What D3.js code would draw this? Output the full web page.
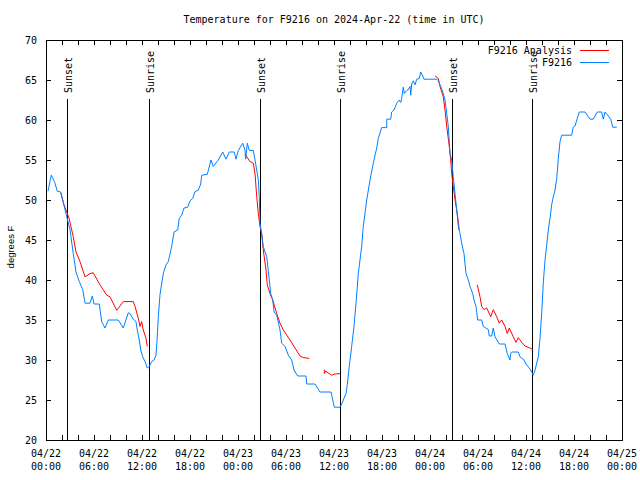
<!DOCTYPE html>
<html><head><meta charset="utf-8">
<script src="https://cdn.jsdelivr.net/npm/d3@7"></script>
<style>
body{margin:0;background:#fff}
svg{display:block}
text{font-family:"DejaVu Sans Mono","Liberation Mono",monospace;font-size:10px;fill:#000}
</style>
</head><body>
<svg id="c" width="640" height="480"></svg>
<script>
// ---------- data (hours since 2024-04-22 00:00 UTC, temperature in deg F) ----------
const titleText = "Temperature for F9216 on 2024-Apr-22 (time in UTC)";
const yLabelText = "degrees F";
const seriesNames = ["F9216 Analysis", "F9216"];
const yTicks = [20, 25, 30, 35, 40, 45, 50, 55, 60, 65, 70];
const xLabelHours = [0, 6, 12, 18, 24, 30, 36, 42, 48, 54, 60, 66, 72];
const xTickLine1 = ["04/22","04/22","04/22","04/22","04/23","04/23","04/23","04/23","04/24","04/24","04/24","04/24","04/25"];
const xTickLine2 = ["00:00","06:00","12:00","18:00","00:00","06:00","12:00","18:00","00:00","06:00","12:00","18:00","00:00"];
const sunLabels = ["Sunset","Sunrise","Sunset","Sunrise","Sunset","Sunrise"];
const sunHours  = [2.65, 12.9, 26.7, 36.8, 50.7, 60.8];

const obsHours = [0.25,0.66,1.09,1.41,1.84,2.09,2.59,3.0,3.41,3.75,4.16,4.59,4.88,5.5,5.79,6.0,6.66,6.96,7.38,7.79,9.04,9.66,10.29,10.5,10.91,11.25,11.41,11.66,11.84,12.09,12.38,12.66,12.91,13.21,13.5,13.75,13.91,14.04,14.25,14.66,15.0,15.29,15.71,16.0,16.46,16.66,16.96,17.25,17.71,18.0,18.34,18.63,19.04,19.34,19.46,20.16,20.63,20.91,21.54,22.09,22.5,22.91,23.54,23.75,24.04,24.59,24.88,24.96,25.16,25.41,25.91,26.13,26.54,26.66,26.75,26.96,27.16,27.59,27.91,28.09,28.34,28.5,28.84,29.25,29.46,29.88,30.29,30.71,31.0,31.46,32.5,32.59,33.63,34.25,35.63,35.84,36.04,36.75,36.96,37.5,37.66,37.91,38.21,38.5,38.75,39.04,39.46,39.66,40.09,40.5,40.91,41.34,41.54,41.96,42.59,42.6,43.09,43.21,43.5,43.84,44.16,44.34,44.46,44.66,44.79,45.09,45.29,45.5,45.59,45.71,45.91,46.13,46.34,46.66,46.84,47.09,47.25,48.84,49.04,49.34,49.66,49.88,50.09,50.29,50.5,50.71,50.91,51.13,51.34,51.54,51.75,51.96,52.25,52.5,52.79,53.0,53.34,53.5,53.75,53.96,54.46,54.66,55.29,55.41,55.71,55.91,56.13,56.66,57.38,57.66,58.0,58.09,58.21,59.04,59.25,59.75,60.0,60.41,60.71,60.91,61.13,61.54,61.75,61.96,62.16,62.38,62.59,62.79,63.0,63.21,63.41,63.63,63.84,64.04,64.25,64.46,65.71,65.91,66.13,66.41,66.66,67.38,68.0,68.41,68.91,69.46,69.66,69.88,70.29,70.59,70.84,71.34];
const obsTemps = [51.1,53.1,52.2,51.1,51.0,50.0,47.9,46.3,43.3,41.0,39.8,38.8,37.1,37.1,38.0,37.0,37.0,34.8,34.0,35.0,35.0,34.0,35.9,35.8,35.1,34.8,33.75,32.5,31.25,30.4,29.8,29.0,29.2,29.8,30.0,30.6,32.9,35.4,38.2,40.8,41.9,42.3,44.2,46.0,46.25,47.7,48.1,49.0,49.1,49.9,50.2,51.05,51.25,52.0,53.1,53.2,55.0,54.2,55.0,56.0,55.1,56.0,56.0,55.1,56.2,57.1,56.2,55.1,57.1,56.2,56.2,55.0,52.5,50.4,47.1,45.8,44.2,42.9,40.0,38.3,37.5,36.0,35.6,33.75,32.1,31.7,30.6,30.0,28.75,28.0,28.0,27.0,27.0,26.0,26.0,25.0,24.1,24.1,24.5,25.8,26.9,29.2,31.7,34.2,37.1,40.8,44.2,46.7,50.0,52.5,54.6,56.5,57.7,59.05,59.05,60.1,60.1,61.0,61.25,62.1,62.5,62.2,62.7,64.1,63.3,63.7,63.8,64.2,63.1,64.5,64.9,64.4,65.1,65.2,66.0,65.5,65.1,65.1,64.9,64.2,63.3,62.5,60.8,59.2,55.8,55.0,52.9,50.8,48.75,46.7,45.8,44.6,43.3,40.8,40.0,39.2,38.3,37.5,36.7,35.0,35.0,34.2,33.8,33.0,33.0,34.0,32.9,32.0,32.0,30.8,30.0,30.8,31.0,31.0,30.4,30.0,29.5,29.0,28.5,28.1,28.75,30.4,32.7,35.8,39.6,42.5,44.4,46.25,47.7,49.4,50.4,51.25,52.7,55.2,57.3,58.1,58.1,59.1,59.25,60.2,61.0,61.0,60.1,60.1,61.0,61.0,60.1,61.0,60.5,60.1,59.1,59.1];

// analysis: null marks a gap between segments
const anaHours = [1.84,2.25,2.59,2.91,3.41,3.75,4.25,4.88,5.5,5.91,6.75,7.59,8.0,8.84,9.66,10.91,11.13,11.54,11.75,11.96,12.16,12.5,12.66, null,
  24.88,25.5,25.91,26.13,26.34,26.54,26.75,26.96,27.16,27.5,27.66,28.0,28.34,28.84,29.25,29.66,30.5,31.13,31.75,32.16,32.91, null,
  34.79,34.8,34.95,35.71,36.13,36.75, null,
  48.63,49.04,49.25,49.66,49.88,50.09,50.41,50.59,50.71,50.91,51.13,51.41,51.66, null,
  53.91,54.25,54.46,54.75,55.09,55.59,55.91,56.34,56.66,56.96,57.38,57.66,57.91,58.41,58.75,59.04,59.46,59.88,60.5,60.91];
const anaTemps = [50.9,49.4,48.5,47.6,45.4,43.5,42.3,40.4,40.8,40.9,39.4,38.1,37.9,36.2,37.3,37.3,36.7,35.2,34.2,34.8,33.75,32.7,31.7, null,
  55.75,54.8,54.6,53.3,50.4,48.3,46.7,45.8,43.75,41.25,39.4,38.3,37.5,35.8,34.6,33.75,32.5,31.5,30.5,30.3,30.2, null,
  28.8,28.3,28.6,28.1,28.25,28.3, null,
  65.5,65.2,64.2,62.9,61.25,59.2,56.7,55.0,53.3,51.7,50.0,48.3,46.25, null,
  39.4,37.9,36.7,36.3,36.5,35.4,36.3,35.4,34.6,35.0,34.2,33.3,34.0,32.9,32.2,32.8,32.2,31.75,31.5,31.25];

const colors = {analysis: "#ff0000", obs: "#0080ff"};

// ---------- chart ----------
const W = 640, H = 480;
const M = {left: 46, right: 622, top: 40, bottom: 440};
const t0 = Date.UTC(2024, 3, 22, 0, 0);
const toDate = h => new Date(t0 + h * 3600e3);

const svg = d3.select("#c");
const x = d3.scaleUtc().domain([toDate(0), toDate(72)]).range([M.left, M.right]);
const y = d3.scaleLinear().domain([20, 70]).range([M.bottom, M.top]);

// title
svg.append("text").attr("x", (M.left + M.right) / 2).attr("y", 23)
  .attr("text-anchor", "middle").text(titleText);

// y label
svg.append("text")
  .attr("transform", `translate(14,247) rotate(-90)`)
  .attr("text-anchor", "middle")
  .style("font-family", "'Liberation Sans', Arial, sans-serif")
  .style("font-size", "9.5px")
  .text(yLabelText);

// axes
const tickHours = d3.range(0, 73, 2).map(toDate);
const gB = svg.append("g").attr("transform", `translate(0,${M.bottom})`)
  .call(d3.axisBottom(x).tickValues(tickHours).tickSizeInner(-5).tickSizeOuter(0).tickFormat(""));
const gT = svg.append("g").attr("transform", `translate(0,${M.top})`)
  .call(d3.axisTop(x).tickValues(tickHours).tickSizeInner(-5).tickSizeOuter(0).tickFormat(""));
const gL = svg.append("g").attr("transform", `translate(${M.left},0)`)
  .call(d3.axisLeft(y).tickValues(yTicks).tickSizeInner(-5).tickSizeOuter(0).tickPadding(9).tickFormat(d3.format("d")));
const gR = svg.append("g").attr("transform", `translate(${M.right},0)`)
  .call(d3.axisRight(y).tickValues(yTicks).tickSizeInner(-5).tickSizeOuter(0).tickFormat(""));
[gB, gT, gL, gR].forEach(g => {
  g.select(".domain").remove();
  g.selectAll("line").attr("stroke", "#000").attr("shape-rendering", "crispEdges");
  g.selectAll("text").style("font-family", "'DejaVu Sans Mono', monospace").style("font-size", "10px").attr("fill", "#000");
});
gL.selectAll("text").attr("dy", "0.35em");

// x tick labels (two lines)
const xl = svg.append("g");
xLabelHours.forEach((h, i) => {
  const t = xl.append("text").attr("x", x(toDate(h))).attr("text-anchor", "middle");
  t.append("tspan").attr("x", x(toDate(h))).attr("y", 457).text(xTickLine1[i]);
  t.append("tspan").attr("x", x(toDate(h))).attr("y", 470).text(xTickLine2[i]);
});

// frame
svg.append("rect").attr("x", M.left + 0.5).attr("y", M.top + 0.5)
  .attr("width", M.right - M.left).attr("height", M.bottom - M.top)
  .attr("fill", "none").attr("stroke", "#000").attr("shape-rendering", "crispEdges");

// sunrise / sunset lines
sunHours.forEach((h, i) => {
  const sx = Math.round(x(toDate(h))) + 0.5;
  svg.append("line").attr("x1", sx).attr("x2", sx).attr("y1", 99).attr("y2", M.bottom)
    .attr("stroke", "#000").attr("shape-rendering", "crispEdges");
  svg.append("text").attr("transform", `translate(${sx + 4},93) rotate(-90)`)
    .attr("text-anchor", "start").text(sunLabels[i]);
});

// data lines
const obsData = obsHours.map((h, i) => ({d: toDate(h), v: obsTemps[i]}));
const anaData = anaHours.map((h, i) => ({d: h == null ? null : toDate(h), v: anaTemps[i]}));
const line = d3.line().defined(p => p.v != null).x(p => x(p.d)).y(p => y(p.v));

svg.append("path").datum(anaData).attr("d", line)
  .attr("fill", "none").attr("stroke", colors.analysis).attr("stroke-width", 1);
svg.append("path").datum(obsData).attr("d", line)
  .attr("fill", "none").attr("stroke", colors.obs).attr("stroke-width", 1);

// legend
const leg = svg.append("g");
[colors.analysis, colors.obs].forEach((c, i) => {
  const ly = 50 + i * 12;
  leg.append("text").attr("x", 572).attr("y", ly).attr("dy", "0.35em")
    .attr("text-anchor", "end").text(seriesNames[i]);
  leg.append("line").attr("x1", 580).attr("x2", 609).attr("y1", ly + 0.5).attr("y2", ly + 0.5)
    .attr("stroke", c).attr("shape-rendering", "crispEdges");
});
</script>
</body></html>
